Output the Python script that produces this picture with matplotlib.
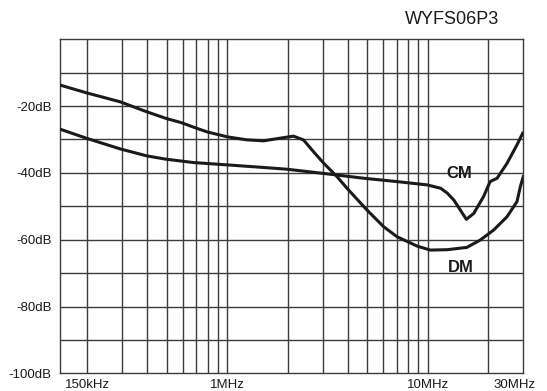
import numpy as np
import matplotlib
matplotlib.use('Agg')
import matplotlib.pyplot as plt
from matplotlib.transforms import ScaledTranslation

plt.rcParams['font.family'] = ['Liberation Sans', 'DejaVu Sans']

# frequency in MHz, attenuation in dB
dmFreq = [0.1466, 0.198, 0.292, 0.397, 0.496, 0.594, 0.679, 0.792, 1.0, 1.25,
          1.52, 1.84, 2.14, 2.40, 2.70, 3.03, 3.53, 3.96, 4.98, 6.03, 7.03,
          8.85, 10.3, 12.5, 15.7, 18.3, 21.35, 24.9, 27.9, 29.0, 30.0]
dmLoss = [-13.7, -16.0, -18.7, -21.7, -23.7, -25.0, -26.3, -27.7, -29.2, -30.1,
          -30.4, -29.6, -29.0, -30.1, -33.7, -37.1, -41.1, -44.6, -51.1, -56.1, -59.1,
          -61.9, -63.1, -63.0, -62.3, -60.1, -57.1, -53.1, -48.6, -44.1, -41.1]

cmFreq = [0.1466, 0.198, 0.292, 0.397, 0.496, 0.679, 1.0, 1.46, 1.99, 3.27,
          4.80, 7.03, 9.97, 11.6, 12.5, 13.5, 15.6, 17.0, 19.0, 20.5, 22.2,
          24.9, 27.9, 29.8]
cmLoss = [-26.9, -29.6, -32.8, -34.9, -35.9, -36.9, -37.6, -38.3, -38.9, -40.4,
          -41.6, -42.6, -43.6, -44.6, -46.0, -48.1, -53.9, -52.1, -47.1, -42.6, -41.6,
          -37.1, -31.6, -28.1]

xTicks = [0.2, 1.0, 10.0, 30.0]
xTickLabels = ['150kHz', '1MHz', '10MHz', '30MHz']
yTicks = [-20, -40, -60, -80, -100]
yTickLabels = ['-20dB', '-40dB', '-60dB', '-80dB', '-100dB']
gridFreq = [0.2, 0.3, 0.4, 0.5, 0.6, 0.7, 0.8, 0.9, 1, 2, 3, 4, 5, 6, 7, 8, 9, 10, 20]

gridColor = '#3c3c3c'

fig = plt.figure(figsize=(5.47, 3.91), dpi=100)
ax = fig.add_axes([60/547, 1-373.3/391, (523.3-60)/547, (373.3-39.3)/391])
ax.set_xscale('log')
ax.set_xlim(0.1466, 30)
ax.set_ylim(-100, 0)

# grid
for f in gridFreq:
    ax.axvline(f, color=gridColor, lw=1.0, zorder=1)
for v in range(-90, 0, 10):
    ax.axhline(v, color=gridColor, lw=1.0, zorder=1)
for s in ax.spines.values():
    s.set_color(gridColor)
    s.set_linewidth(1.0)

ax.plot(dmFreq, dmLoss, color='#1a1a1a', lw=2.2, solid_joinstyle='round', zorder=3)
ax.plot(cmFreq, cmLoss, color='#1a1a1a', lw=2.2, solid_joinstyle='round', zorder=3)

ax.text(14.4, -40.2, 'CM', fontsize=12, fontweight='bold', ha='center', va='center', color='#1a1a1a')
ax.text(14.6, -68.2, 'DM', fontsize=12, fontweight='bold', ha='center', va='center', color='#1a1a1a')

ax.xaxis.set_minor_locator(matplotlib.ticker.NullLocator())
ax.set_xticks(xTicks)
ax.set_xticklabels(xTickLabels, fontsize=9.5)
ax.set_yticks(yTicks)
ax.set_yticklabels(yTickLabels, fontsize=9.5)
ax.tick_params(length=0, pad=4, colors='#1a1a1a')
ax.tick_params(axis='y', pad=6)

lbl = ax.get_xticklabels()[-1]
lbl.set_transform(lbl.get_transform() + ScaledTranslation(-9/100, 0, fig.dpi_scale_trans))

fig.text(452/547, 1-20/391, 'WYFS06P3', fontsize=13, ha='center', va='center', color='#1a1a1a')

fig.savefig('out.png', dpi=100)
